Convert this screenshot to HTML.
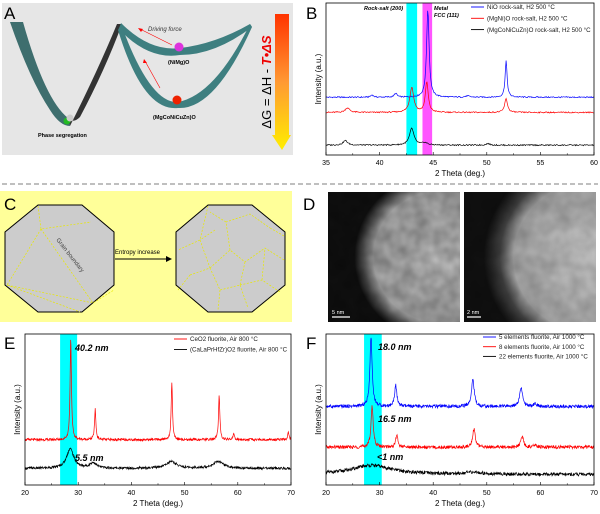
<!DOCTYPE html>
<html><head><meta charset="utf-8"><style>
html,body{margin:0;padding:0;background:#fff;}
svg{display:block;font-family:"Liberation Sans",sans-serif;}
</style></head><body>
<svg id="fig" width="600" height="514" viewBox="0 0 600 514" xmlns="http://www.w3.org/2000/svg">
<defs>
<linearGradient id="gArrow" x1="0" y1="0" x2="0" y2="1"><stop offset="0" stop-color="#ff3300"/><stop offset="0.5" stop-color="#ff9933"/><stop offset="1" stop-color="#ffee00"/></linearGradient>
<radialGradient id="gD1" cx="0.85" cy="0.5" r="0.65"><stop offset="0" stop-color="#c8c8c8"/><stop offset="0.78" stop-color="#b0b0b0"/><stop offset="0.9" stop-color="#555"/><stop offset="1" stop-color="#111"/></radialGradient>
<radialGradient id="gD2" cx="0.95" cy="0.5" r="0.8"><stop offset="0" stop-color="#cfcfcf"/><stop offset="0.72" stop-color="#aaa"/><stop offset="0.85" stop-color="#444"/><stop offset="1" stop-color="#111"/></radialGradient>
<filter id="fNoise" x="0" y="0" width="100%" height="100%"><feTurbulence type="fractalNoise" baseFrequency="0.07" numOctaves="2" seed="3"/><feColorMatrix type="matrix" values="0 0 0 0 0  0 0 0 0 0  0 0 0 0 0  0 0 0 0.7 0"/></filter>
</defs>

<!-- Panel A -->
<g>
<rect x="2" y="3" width="291" height="152" fill="#e6e6e6"/>
<text x="4" y="19" font-size="17" fill="#000">A</text>
<path d="M10,22 L23,22 Q45,100 68,118 L70,126 Q60,126 50,110 Q30,80 10,22 Z" fill="#3e6e6e"/>
<path d="M68,118 Q73,124 80,117 Q105,70 122,24 L117,24 Q98,70 70,126 Z" fill="#333"/>
<path d="M121,23 Q150,52 180,48 Q215,44 250,24 L252,27 Q215,55 180,55 Q148,60 119,29 Z" fill="#3e7f80"/>
<path d="M121,24 Q150,104 178,102 Q215,95 250,24 L252,27 Q215,110 178,108 Q143,112 118,30 Z" fill="#3e7f80"/>
<circle cx="67" cy="121" r="3.5" fill="#22bb22"/>
<circle cx="70" cy="118" r="3.5" fill="#cccccc"/>
<circle cx="179" cy="47" r="4.5" fill="#dd33dd"/>
<circle cx="177" cy="100" r="4.5" fill="#ee2200"/>
<line x1="172" y1="45" x2="140" y2="29" stroke="#ff0000" stroke-width="0.6"/>
<path d="M138,28 L143,29 L141,32 Z" fill="#f00"/>
<line x1="160" y1="88" x2="145" y2="61" stroke="#ff0000" stroke-width="0.6"/>
<path d="M144,59 L147,63 L143,63 Z" fill="#f00"/>
<text x="148" y="31" font-size="6" font-style="italic" fill="#333">Driving force</text>
<text x="168" y="64" font-size="5.5" font-weight="bold" fill="#000">(NiMg)O</text>
<text x="153" y="119" font-size="5.5" font-weight="bold" fill="#000">(MgCoNiCuZn)O</text>
<text x="38" y="137" font-size="5.5" font-weight="bold" fill="#000">Phase segregation</text>
<path d="M275,14 L289,14 L289,135 L291,135 L282,150 L272,135 L275,135 Z" fill="url(#gArrow)"/>
<text transform="translate(271,82) rotate(-90)" text-anchor="middle" font-size="13" fill="#000">ΔG = ΔH - <tspan fill="#e00" font-weight="bold" font-style="italic">T•ΔS</tspan></text>
</g>

<!-- separator -->
<line x1="2" y1="184" x2="598" y2="184" stroke="#999" stroke-width="1.2" stroke-dasharray="5,3"/>

<!-- Panel C -->
<g>
<rect x="0" y="191" width="292" height="131" fill="#ffff99"/>
<text x="4" y="210" font-size="17" fill="#000">C</text>
<polygon points="38,205 82,205 114,232 114,285 82,312 38,312 5,285 5,232" fill="#cccccc" stroke="#000" stroke-width="1"/>
<path d="M38,206 L41,229 L91,222 M41,229 L7,285 L93,303 L114,290 M41,229 L93,303 M7,285 L80,312" stroke="#e8e800" stroke-width="0.7" stroke-dasharray="2,1.5" fill="none"/>
<text transform="translate(56,240) rotate(52)" font-size="6" fill="#444">Grain boundary</text>
<line x1="115" y1="259" x2="167" y2="259" stroke="#000" stroke-width="1"/>
<path d="M172,259 L166,256 L166,262 Z" fill="#000"/>
<text x="115" y="254" font-size="6" fill="#000">Entropy increase</text>
<polygon points="208,205 252,205 285,232 285,285 252,312 208,312 176,285 176,232" fill="#cccccc" stroke="#000" stroke-width="1"/>
<path d="M208,206 L200,240 L178,250 M200,240 L210,268 L190,275 M210,268 L230,250 L245,262 L265,248 L284,260 M230,250 L226,222 L250,214 L270,228 M226,222 L210,212 M245,262 L240,285 L220,290 L210,268 M240,285 L262,280 L280,292 M220,290 L218,310 M262,280 L265,248 M240,285 L248,308 M190,275 L178,290 M215,230 L200,240 M270,228 L284,236" stroke="#e8e800" stroke-width="0.7" stroke-dasharray="2,1.5" fill="none"/>
</g>

<!-- Panel D -->
<g>
<text x="303" y="210" font-size="17" fill="#000">D</text>
<rect x="328" y="192" width="132" height="130" fill="url(#gD1)"/>
<rect x="328" y="192" width="132" height="130" filter="url(#fNoise)" opacity="0.55"/>
<line x1="332" y1="317" x2="350" y2="317" stroke="#fff" stroke-width="1.2"/>
<text x="332" y="314" font-size="5.5" fill="#fff">5 nm</text>
<rect x="464" y="192" width="132" height="130" fill="url(#gD2)"/>
<rect x="464" y="192" width="132" height="130" filter="url(#fNoise)" opacity="0.35"/>
<line x1="467" y1="317" x2="481" y2="317" stroke="#fff" stroke-width="1.2"/>
<text x="467" y="314" font-size="5.5" fill="#fff">2 nm</text>
</g>

<g id="charts"></g>
</svg>
<script>
// ---------- Panel B data ----------
const bSeriesNames = ["NiO rock-salt, H2 500 °C", "(MgNi)O rock-salt, H2 500 °C", "(MgCoNiCuZn)O rock-salt, H2 500 °C"];
const bColors = ["#0000ff", "#ff0000", "#000000"];
const bBaselines = [38, 28, 6.5];
const bPeakPos = [[39.3, 41.5, 44.5, 48.2, 51.8], [37.0, 43.0, 44.4, 51.8], [36.8, 43.0, 44.2, 50.1]];
const bPeakH = [[1.5, 2.5, 58, 0.8, 24], [3, 16.5, 20, 9], [3, 11, 1.5, 1]];
const bPeakW = [[0.15, 0.15, 0.14, 0.2, 0.11], [0.25, 0.22, 0.16, 0.16], [0.25, 0.25, 0.3, 0.2]];
const bTicks = [35, 40, 45, 50, 55, 60];
const bBands = [[42.5, 43.5, "#00ffff"], [44.0, 44.9, "#ff55ff"]];

// ---------- Panel E data ----------
const eSeriesNames = ["CeO2 fluorite, Air 800 °C", "(CaLaPrHfZr)O2 fluorite, Air 800 °C"];
const eColors = ["#ff0000", "#000000"];
const eBaselines = [30, 11];
const ePeakPos = [[28.6, 33.2, 47.6, 56.5, 59.2, 69.5], [28.5, 32.8, 47.5, 56.3]];
const ePeakH = [[67, 20, 37, 29, 4, 5], [13, 3.5, 4.5, 4.5]];
const ePeakW = [[0.15, 0.15, 0.15, 0.15, 0.15, 0.15], [0.8, 0.8, 1.2, 1.2]];
const eTicks = [20, 30, 40, 50, 60, 70];
const eBands = [[26.6, 29.8, "#00ffff"]];

// ---------- Panel F data ----------
const fSeriesNames = ["5 elements fluorite, Air 1000 °C", "8 elements fluorite, Air 1000 °C", "22 elements fluorite, Air 1000 °C"];
const fColors = ["#0000ff", "#ff0000", "#000000"];
const fBaselines = [52, 25, 7];
const fPeakPos = [[28.4, 33.0, 47.4, 56.4, 59.0], [28.6, 33.2, 47.6, 56.6, 59.0], [28.5, 47.5]];
const fPeakH = [[46, 14, 18, 13, 2], [27, 8, 12, 7, 1.5], [6, 1.2]];
const fPeakW = [[0.25, 0.25, 0.3, 0.3, 0.3], [0.25, 0.25, 0.3, 0.3, 0.3], [4.5, 2]];
const fTicks = [20, 30, 40, 50, 60, 70];
const fBands = [[27.1, 30.4, "#00ffff"]];

const NS = "http://www.w3.org/2000/svg";
const root = document.getElementById("charts");
function mk(tag, attrs, parent) {
  const el = document.createElementNS(NS, tag);
  for (const k in attrs) el.setAttribute(k, attrs[k]);
  (parent || root).appendChild(el);
  return el;
}
function jitter(i, s) { const v = Math.sin(i * 12.9898 + s * 78.233) * 43758.5453; return (v - Math.floor(v)) - 0.5; }

function drawChart(p) {
  const g = mk("g", {});
  
  
  const xS = v => p.x0 + (v - p.xmin) / (p.xmax - p.xmin) * (p.x1 - p.x0);
  const yS = v => p.y1 - v / 100 * (p.y1 - p.y0);
  p.bands.forEach((b, i) => {
    const r = mk("rect", { x: xS(b[0]), y: p.y0, width: xS(b[1]) - xS(b[0]), height: p.y1 - p.y0, fill: b[2] }, g);
    
    
  });
  p.base.forEach((base, s) => {
    let d = "";
    let i = 0;
    for (let x = p.xmin; x <= p.xmax + 1e-9; x += 0.06, i++) {
      let y = base;
      p.pos[s].forEach((c, k) => { const w = p.wid[s][k]; y += p.hgt[s][k] * w * w / ((x - c) * (x - c) + w * w); });
      y += jitter(i, s + p.seed) * p.noise;
      d += (d ? "L" : "M") + xS(x).toFixed(2) + "," + yS(y).toFixed(2);
    }
    const path = mk("path", { d: d, fill: "none", stroke: p.colors[s], "stroke-width": 0.7 }, g);
    
    
  });
  const fr = mk("rect", { x: p.x0, y: p.y0, width: p.x1 - p.x0, height: p.y1 - p.y0, fill: "none", stroke: "#000", "stroke-width": 0.8 }, g);
  
  
  p.ticks.forEach((t, i) => {
    mk("line", { x1: xS(t), x2: xS(t), y1: p.y1, y2: p.y1 - 3, stroke: "#000", "stroke-width": 0.6 }, g);
    if (i < p.ticks.length - 1) { const m = (t + p.ticks[i + 1]) / 2; mk("line", { x1: xS(m), x2: xS(m), y1: p.y1, y2: p.y1 - 1.8, stroke: "#000", "stroke-width": 0.5 }, g); }
    const tl = mk("text", { x: xS(t), y: p.y1 + 10, "font-size": 7, "text-anchor": "middle", fill: "#000" }, g);
    tl.textContent = t;
    
    
  });
  const xt = mk("text", { x: (p.x0 + p.x1) / 2, y: p.y1 + 21, "font-size": 8, "text-anchor": "middle", fill: "#000" }, g);
  xt.textContent = "2 Theta (deg.)";
  
  
  const yt = mk("text", { transform: "translate(" + (p.x0 - 5) + "," + ((p.y0 + p.y1) / 2) + ") rotate(-90)", "font-size": 8, "text-anchor": "middle", fill: "#000" }, g);
  yt.textContent = "Intensity (a.u.)";
  
  
  const lbl = mk("text", { x: p.labelX, y: p.labelY, "font-size": 17, fill: "#000" }, g);
  lbl.textContent = p.letter;
  
  
  p.names.forEach((n, s) => {
    const yy = p.legY + s * p.legDy;
    const ln = mk("line", { x1: p.legX, x2: p.legX + 13, y1: yy, y2: yy, stroke: p.colors[s], "stroke-width": 0.9 }, g);
    
    
    const t = mk("text", { x: p.legX + 16, y: yy + 2.2, "font-size": 6.2, fill: "#222" }, g);
    t.textContent = n;
    
    
  });
  (p.notes || []).forEach(nt => {
    const t = mk("text", { x: nt[0], y: nt[1], "font-size": nt[3], "font-weight": "bold", "font-style": "italic", fill: "#000" }, g);
    t.textContent = nt[2];
    
    
  });
}

drawChart({ name: "panel-b-chart", letter: "B", labelX: 306, labelY: 19, x0: 326, x1: 594, y0: 3, y1: 155, xmin: 35, xmax: 60,
  base: bBaselines, pos: bPeakPos, hgt: bPeakH, wid: bPeakW, colors: bColors, names: bSeriesNames, ticks: bTicks, bands: bBands,
  noise: 0.8, seed: 1, legX: 471, legY: 7, legDy: 11.3,
  notes: [[364, 10, "Rock-salt (200)", 5.5], [434, 10, "Metal", 5.5], [434, 17, "FCC (111)", 5.5]] });

drawChart({ name: "panel-e-chart", letter: "E", labelX: 4, labelY: 349, x0: 25, x1: 291, y0: 334, y1: 485, xmin: 20, xmax: 70,
  base: eBaselines, pos: ePeakPos, hgt: ePeakH, wid: ePeakW, colors: eColors, names: eSeriesNames, ticks: eTicks, bands: eBands,
  noise: 1.6, seed: 5, legX: 174, legY: 339, legDy: 10.5,
  notes: [[75, 351, "40.2 nm", 9], [75, 461, "5.5 nm", 9]] });

drawChart({ name: "panel-f-chart", letter: "F", labelX: 306, labelY: 349, x0: 326, x1: 594, y0: 334, y1: 485, xmin: 20, xmax: 70,
  base: fBaselines, pos: fPeakPos, hgt: fPeakH, wid: fPeakW, colors: fColors, names: fSeriesNames, ticks: fTicks, bands: fBands,
  noise: 2.2, seed: 9, legX: 483, legY: 337, legDy: 9.7,
  notes: [[378, 350, "18.0 nm", 9], [378, 422, "16.5 nm", 9], [377, 460, "<1 nm", 9]] });
</script>
</body></html>
